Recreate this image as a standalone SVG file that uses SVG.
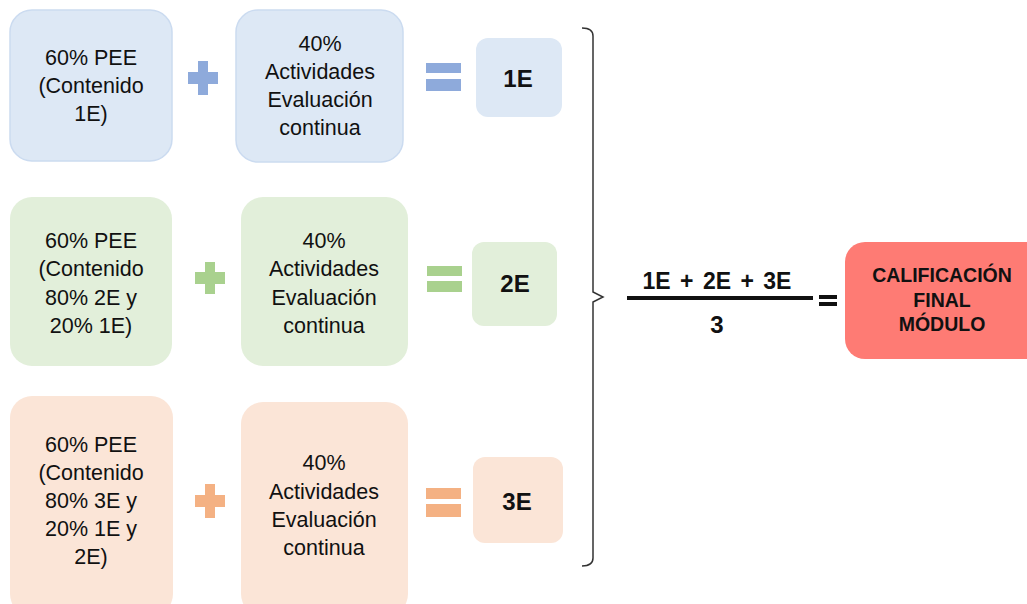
<svg xmlns="http://www.w3.org/2000/svg" width="1027" height="604" viewBox="0 0 1027 604">
<style>
.t{font-family:"Liberation Sans",Arial,sans-serif;font-size:21.5px;fill:#111;text-anchor:middle}
.b{font-family:"Liberation Sans",Arial,sans-serif;font-weight:bold;fill:#111;text-anchor:middle}
.blue{fill:#dde8f5;stroke:#cbdbf0;stroke-width:1.5}
.green{fill:#e2efda}
.orange{fill:#fbe5d7}
</style>
<rect width="1027" height="604" fill="#fff"/>
<!-- Row 1 -->
<g id="pee1"><rect class="blue" x="10" y="10" width="162" height="151" rx="22"/>
<text class="t" x="91" y="65">60% PEE</text><text class="t" x="91" y="93">(Contenido</text><text class="t" x="91" y="121">1E)</text></g>
<g id="plus1" fill="#8eaadb"><rect x="198" y="61" width="10" height="34"/><rect x="188" y="72" width="30" height="12"/></g>
<g id="act1"><rect class="blue" x="236" y="10" width="167" height="152" rx="22"/>
<text class="t" x="320" y="51">40%</text><text class="t" x="320" y="79">Actividades</text><text class="t" x="320" y="107">Evaluación</text><text class="t" x="320" y="135">continua</text></g>
<g id="eq1" fill="#8eaadb"><rect x="426" y="63" width="35" height="10"/><rect x="426" y="79" width="35" height="12"/></g>
<g id="e1"><rect x="476" y="38" width="86" height="79" rx="12" fill="#dde8f5"/><text class="b" x="518" y="87" font-size="24">1E</text></g>
<!-- Row 2 -->
<g id="pee2"><rect class="green" x="10" y="197" width="162" height="169" rx="22"/>
<text class="t" x="91" y="248">60% PEE</text><text class="t" x="91" y="276">(Contenido</text><text class="t" x="91" y="305">80% 2E y</text><text class="t" x="91" y="333">20% 1E)</text></g>
<g id="plus2" fill="#a9d18e"><rect x="205" y="262" width="10" height="32"/><rect x="195" y="272" width="30" height="12"/></g>
<g id="act2"><rect class="green" x="241" y="197" width="167" height="169" rx="22"/>
<text class="t" x="324" y="248">40%</text><text class="t" x="324" y="276">Actividades</text><text class="t" x="324" y="305">Evaluación</text><text class="t" x="324" y="333">continua</text></g>
<g id="eq2" fill="#a9d18e"><rect x="427" y="266" width="35" height="10"/><rect x="427" y="281" width="35" height="11"/></g>
<g id="e2"><rect x="472" y="242" width="85" height="84" rx="12" fill="#e2efda"/><text class="b" x="515" y="292" font-size="24">2E</text></g>
<!-- Row 3 -->
<g id="pee3"><rect class="orange" x="10" y="396" width="163" height="220" rx="22"/>
<text class="t" x="91" y="452">60% PEE</text><text class="t" x="91" y="480">(Contenido</text><text class="t" x="91" y="508">80% 3E y</text><text class="t" x="91" y="536">20% 1E y</text><text class="t" x="91" y="564">2E)</text></g>
<g id="plus3" fill="#f4b183"><rect x="205" y="484" width="10" height="34"/><rect x="195" y="495" width="30" height="12"/></g>
<g id="act3"><rect class="orange" x="241" y="402" width="167" height="214" rx="22"/>
<text class="t" x="324" y="470">40%</text><text class="t" x="324" y="499">Actividades</text><text class="t" x="324" y="527">Evaluación</text><text class="t" x="324" y="555">continua</text></g>
<g id="eq3" fill="#f4b183"><rect x="426" y="488" width="35" height="11"/><rect x="426" y="504" width="35" height="13"/></g>
<g id="e3"><rect x="473" y="457" width="90" height="86" rx="12" fill="#fbe5d7"/><text class="b" x="517" y="510" font-size="24">3E</text></g>
<!-- connectors -->
<g id="connectors" fill="none" stroke="#333" stroke-width="1.5">
<path d="M582,28 Q593,28 593,36 V292 L603,297 L593,302 V558 Q593,566 582,566"/>
</g>
<!-- formula -->
<g id="formula">
<text class="b" x="717" y="289" font-size="23" word-spacing="3">1E + 2E + 3E</text>
<rect x="627" y="296" width="186" height="4" fill="#111"/>
<text class="b" x="717" y="333" font-size="24">3</text>
<rect x="819" y="295" width="18" height="4" fill="#111"/><rect x="819" y="302" width="18" height="4" fill="#111"/>
</g>
<g id="final"><rect x="845" y="242" width="200" height="117" rx="20" fill="#fe7b74"/>
<text class="b" x="942" y="282" font-size="19.5">CALIFICACIÓN</text><text class="b" x="942" y="307" font-size="19.5">FINAL</text><text class="b" x="942" y="331" font-size="19.5">MÓDULO</text></g>
</svg>
